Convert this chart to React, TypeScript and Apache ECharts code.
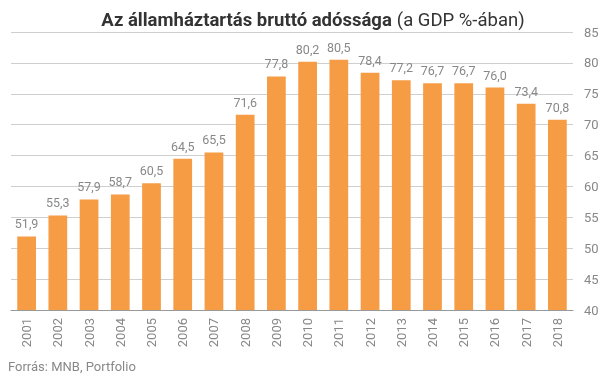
import React, { useEffect, useRef } from "react";
import * as echarts from "echarts";

const years = ["2001","2002","2003","2004","2005","2006","2007","2008","2009","2010","2011","2012","2013","2014","2015","2016","2017","2018"];
const values = [51.9, 55.3, 57.9, 58.7, 60.5, 64.5, 65.5, 71.6, 77.8, 80.2, 80.5, 78.4, 77.2, 76.7, 76.7, 76.0, 73.4, 70.8];

export default function App() {
  const ref = useRef<HTMLDivElement>(null);
  useEffect(() => {
    const chart = echarts.init(ref.current!, null, { renderer: "svg" });
    chart.setOption({
      animation: false,
      title: {
        text: "{b|Az államháztartás bruttó adóssága} {n|(a GDP %-ában)}",
        left: 308,
        textAlign: "center",
        top: 5,
        textStyle: {
          rich: {
            b: { fontFamily: "Roboto", fontWeight: "bold", fontSize: 18.5, color: "#333" },
            n: { fontFamily: "Roboto", fontWeight: "normal", fontSize: 18.5, color: "#333" },
          },
        },
      },
      graphic: [
        {
          type: "text",
          left: 8,
          top: 360,
          style: { text: "Forrás: MNB, Portfolio", fill: "#888", font: "13px Roboto" },
        },
      ],
      grid: { left: 11, right: 32, top: 32, bottom: 68 },
      xAxis: {
        type: "category",
        data: years,
        axisLine: { lineStyle: { color: "#999" } },
        axisTick: { show: false },
        axisLabel: { rotate: 90, color: "#888", fontFamily: "Roboto", fontSize: 13, margin: 8 },
      },
      yAxis: {
        type: "value",
        position: "right",
        min: 40,
        max: 85,
        interval: 5,
        axisLine: { show: false },
        axisTick: { show: false },
        splitLine: { lineStyle: { color: "#cfcfcf" } },
        axisLabel: { color: "#888", fontFamily: "Roboto", fontSize: 13, margin: 11 },
      },
      series: [
        {
          type: "bar",
          data: values,
          barWidth: "60%",
          itemStyle: { color: "#F59C45" },
          label: {
            show: true,
            position: "top",
            color: "#888",
            fontFamily: "Roboto",
            fontSize: 12.5,
            distance: 6,
            formatter: (p: any) => p.value.toFixed(1).replace(".", ","),
          },
        },
      ],
    });
    return () => chart.dispose();
  }, []);
  return <div ref={ref} style={{ position: "fixed", left: 0, top: 0, width: 605, height: 378 }} />;
}
